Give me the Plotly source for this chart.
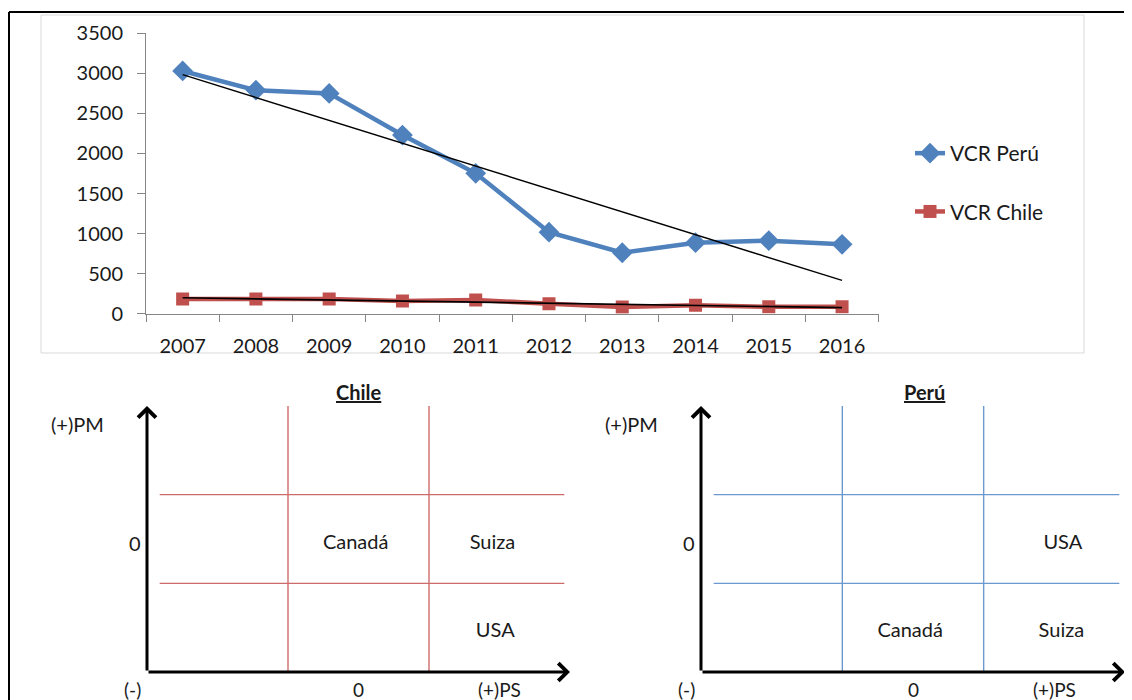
import numpy as np
import plotly.graph_objects as go

# ---------------- data ----------------
years = ['2007', '2008', '2009', '2010', '2011', '2012', '2013', '2014', '2015', '2016']
vcr_peru = [3030, 2790, 2750, 2230, 1752, 1018, 761, 886, 911, 866]
vcr_chile = [185, 185, 185, 158, 171, 125, 84, 105, 87, 87]
y_ticks = [0, 500, 1000, 1500, 2000, 2500, 3000, 3500]

# quadrant diagrams (3 x 3 grid)
grid_max = 3
grid_divisions = [1, 2]
chile_labels = ['Canadá', 'Suiza', 'USA']
chile_label_x = [1.48, 2.45, 2.47]
chile_label_y = [1.44, 1.44, 0.45]
peru_labels = ['USA', 'Canadá', 'Suiza']
peru_label_x = [2.56, 1.48, 2.55]
peru_label_y = [1.44, 0.45, 0.45]

# page body has an 8px margin: the figure is shrunk by it so it fits the window
OFF = 8
W, H = 1132 - OFF, 700 - OFF
FONT = 'Lato'
TXT = '#1a1a1a'
BLUE = '#4F81BD'
RED = '#C0504D'
AXC = '#868686'
FS = 20


def px(x):
    return (x - OFF) / W


def py(y):
    return 1 - (y - OFF) / H


fig = go.Figure()

# ---------------- top line chart ----------------
idx = np.arange(len(years))
tp = np.polyval(np.polyfit(idx, vcr_peru, 1), idx)
tc = np.polyval(np.polyfit(idx, vcr_chile, 1), idx)

fig.add_trace(go.Scatter(x=years, y=vcr_peru, name='VCR Perú', mode='lines+markers',
                         line=dict(color=BLUE, width=4.5),
                         marker=dict(symbol='diamond', size=16, color=BLUE),
                         legendgroup='p'))
fig.add_trace(go.Scatter(x=years, y=vcr_chile, name='VCR Chile', mode='lines+markers',
                         line=dict(color=RED, width=4.5),
                         marker=dict(symbol='square', size=13, color=RED),
                         legendgroup='c'))
fig.add_trace(go.Scatter(x=[years[0], years[-1]], y=[tp[0], tp[-1]], mode='lines',
                         line=dict(color='black', width=1.4), showlegend=False,
                         hoverinfo='skip'))
fig.add_trace(go.Scatter(x=years, y=tc, mode='lines',
                         line=dict(color='black', width=1.6), showlegend=False,
                         hoverinfo='skip'))

# ---------------- quadrant diagrams ----------------
shapes = []
annotations = []


def diagram(xr, yr, labels, lx, ly, color, title, title_x):
    fig.add_trace(go.Scatter(x=lx, y=ly, text=labels, mode='text', xaxis=xr, yaxis=yr,
                             textfont=dict(family=FONT, size=FS, color=TXT),
                             showlegend=False, hoverinfo='skip'))
    for d in grid_divisions:
        shapes.append(dict(type='line', xref=xr, yref=yr, x0=d, x1=d, y0=0, y1=grid_max,
                           line=dict(color=color, width=1.4)))
        shapes.append(dict(type='line', xref=xr, yref=yr, x0=0.09, x1=grid_max - 0.04,
                           y0=d, y1=d, line=dict(color=color, width=1.4)))
    # axes with arrows
    for (hx, hy) in [(0, grid_max), (grid_max, 0)]:
        annotations.append(dict(xref=xr, yref=yr, axref=xr, ayref=yr, x=hx, y=hy, ax=0, ay=0,
                                text='', showarrow=True, arrowhead=4, arrowsize=1.15,
                                arrowwidth=3, arrowcolor='black', standoff=0, startstandoff=0))
    f = dict(family=FONT, size=FS, color=TXT)
    fb = dict(family=FONT, size=19, color=TXT)
    annotations.extend([
        dict(xref=xr, yref=yr, x=0, y=2.8, text='(+)PM', showarrow=False, font=f, xshift=-70),
        dict(xref=xr, yref=yr, x=0, y=1.45, text='0', showarrow=False, font=f, xanchor='right', xshift=-4),
        dict(xref=xr, yref=yr, x=0, y=0, text='(-)', showarrow=False, font=fb, xshift=-15, yshift=-17),
        dict(xref=xr, yref=yr, x=1.5, y=0, text='0', showarrow=False, font=fb, yshift=-17),
        dict(xref=xr, yref=yr, x=2.5, y=0, text='(+)PS', showarrow=False, font=fb, yshift=-17),
        dict(xref=xr, yref=yr, x=title_x, y=grid_max, text='<b><u>' + title + '</u></b>',
             showarrow=False, font=f, yshift=14),
    ])


diagram('x2', 'y2', chile_labels, chile_label_x, chile_label_y, '#CD6B6B', 'Chile', 1.5)
diagram('x3', 'y3', peru_labels, peru_label_x, peru_label_y, '#6B98CF', 'Perú', 1.58)

# ---------------- frames ----------------
shapes.extend([
    dict(type='line', xref='paper', yref='paper', x0=px(9), x1=1, y0=py(12), y1=py(12),
         line=dict(color='black', width=2)),
    dict(type='line', xref='paper', yref='paper', x0=px(9), x1=px(9), y0=py(12), y1=0,
         line=dict(color='black', width=2)),
    dict(type='rect', xref='paper', yref='paper', x0=px(41), x1=px(1084), y0=py(353), y1=py(15),
         line=dict(color='#D9D9D9', width=1), layer='below'),
])

tickfont = dict(family=FONT, size=FS, color=TXT)
hidden = dict(visible=False, range=[0, grid_max], fixedrange=True)

fig.update_layout(
    width=W, height=H, margin=dict(l=0, r=0, t=0, b=0, pad=0, autoexpand=False),
    paper_bgcolor='white', plot_bgcolor='rgba(0,0,0,0)',
    font=dict(family=FONT, color=TXT),
    xaxis=dict(domain=[px(146), px(878.7)], type='category', range=[-0.5, 9.5],
               tickson='boundaries', ticks='outside', ticklen=7, tickcolor=AXC,
               showline=True, linecolor=AXC, linewidth=1, showgrid=False, zeroline=False,
               tickfont=tickfont, ticklabelstandoff=14, automargin=False),
    yaxis=dict(domain=[py(313.7), py(33.3)], range=[0, 3500], tickvals=y_ticks,
               ticks='outside', ticklen=8, tickcolor=AXC, showline=True, linecolor=AXC,
               linewidth=1, showgrid=False, zeroline=False, tickfont=tickfont,
               ticklabelstandoff=10, automargin=False),
    xaxis2=dict(domain=[px(147), px(570)], anchor='y2', **hidden),
    yaxis2=dict(domain=[py(672), py(406)], anchor='x2', **hidden),
    xaxis3=dict(domain=[px(701), px(1125)], anchor='y3', **hidden),
    yaxis3=dict(domain=[py(672), py(406)], anchor='x3', **hidden),
    legend=dict(x=px(910), y=py(133), xanchor='left', yanchor='top',
                font=dict(family=FONT, size=21, color=TXT), traceorder='grouped',
                tracegroupgap=28, bgcolor='rgba(0,0,0,0)'),
    shapes=shapes, annotations=annotations, showlegend=True,
)

fig.write_html('out.html')
